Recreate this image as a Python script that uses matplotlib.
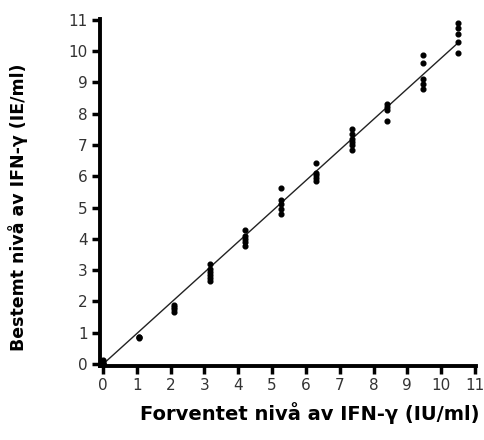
import matplotlib
matplotlib.use("Agg")
import matplotlib.pyplot as plt
import numpy as np

# Expected levels (x) and measured replicate values (y)
expected = [0.0, 1.05, 2.1, 3.15, 4.2, 5.25, 6.3, 7.35, 8.4, 9.45, 10.5]
measured = [
    [0.0, 0.05, 0.12, 0.02],
    [0.82, 0.86, 0.88],
    [1.68, 1.75, 1.82, 1.9],
    [2.65, 2.75, 2.85, 2.95, 3.05, 3.2],
    [3.78, 3.9, 4.0, 4.1, 4.28],
    [4.8, 4.95, 5.1, 5.25, 5.62],
    [5.85, 5.95, 6.05, 6.1, 6.42],
    [6.85, 7.0, 7.1, 7.2, 7.35, 7.5],
    [7.75, 8.1, 8.2, 8.32],
    [8.8, 8.95, 9.1, 9.62, 9.88],
    [9.95, 10.28, 10.55, 10.72, 10.88],
]
fit_x = [0.0, 10.5]
fit_y = [0.0, 10.26]

xticks = list(range(0, 12))
yticks = list(range(0, 12))
xlabel = "Forventet nivå av IFN-γ (IU/ml)"
ylabel = "Bestemt nivå av IFN-γ (IE/ml)"

fig = plt.figure(figsize=(4.84, 4.4), dpi=100)
ax = fig.add_axes([100/484, 1-366/440, 376/484, 347/440])

xs, ys = [], []
for x, vals in zip(expected, measured):
    for v in vals:
        xs.append(x)
        ys.append(v)
ax.plot(fit_x, fit_y, color="#222222", lw=1.0, zorder=2)
ax.plot(xs, ys, "o", color="black", ms=3.4, zorder=3)

ax.set_xlim(-0.09, 11.03)
ax.set_ylim(-0.06, 11.02)
ax.set_xticks(xticks)
ax.set_yticks(yticks)
for s in ["top", "right"]:
    ax.spines[s].set_visible(False)
for s in ["left", "bottom"]:
    ax.spines[s].set_linewidth(2.8)
ax.tick_params(length=6, width=2.5, labelsize=11, pad=3, colors="black")
for lbl in ax.get_xticklabels() + ax.get_yticklabels():
    lbl.set_color("#333333")

fig.text(479/484, 1-413/440, xlabel, ha="right", va="center",
         fontsize=14, fontweight="bold")
fig.text(18/484, 1-207/440, ylabel, ha="center", va="center",
         rotation=90, fontsize=12.5, fontweight="bold")

fig.savefig("out.png", dpi=100)
